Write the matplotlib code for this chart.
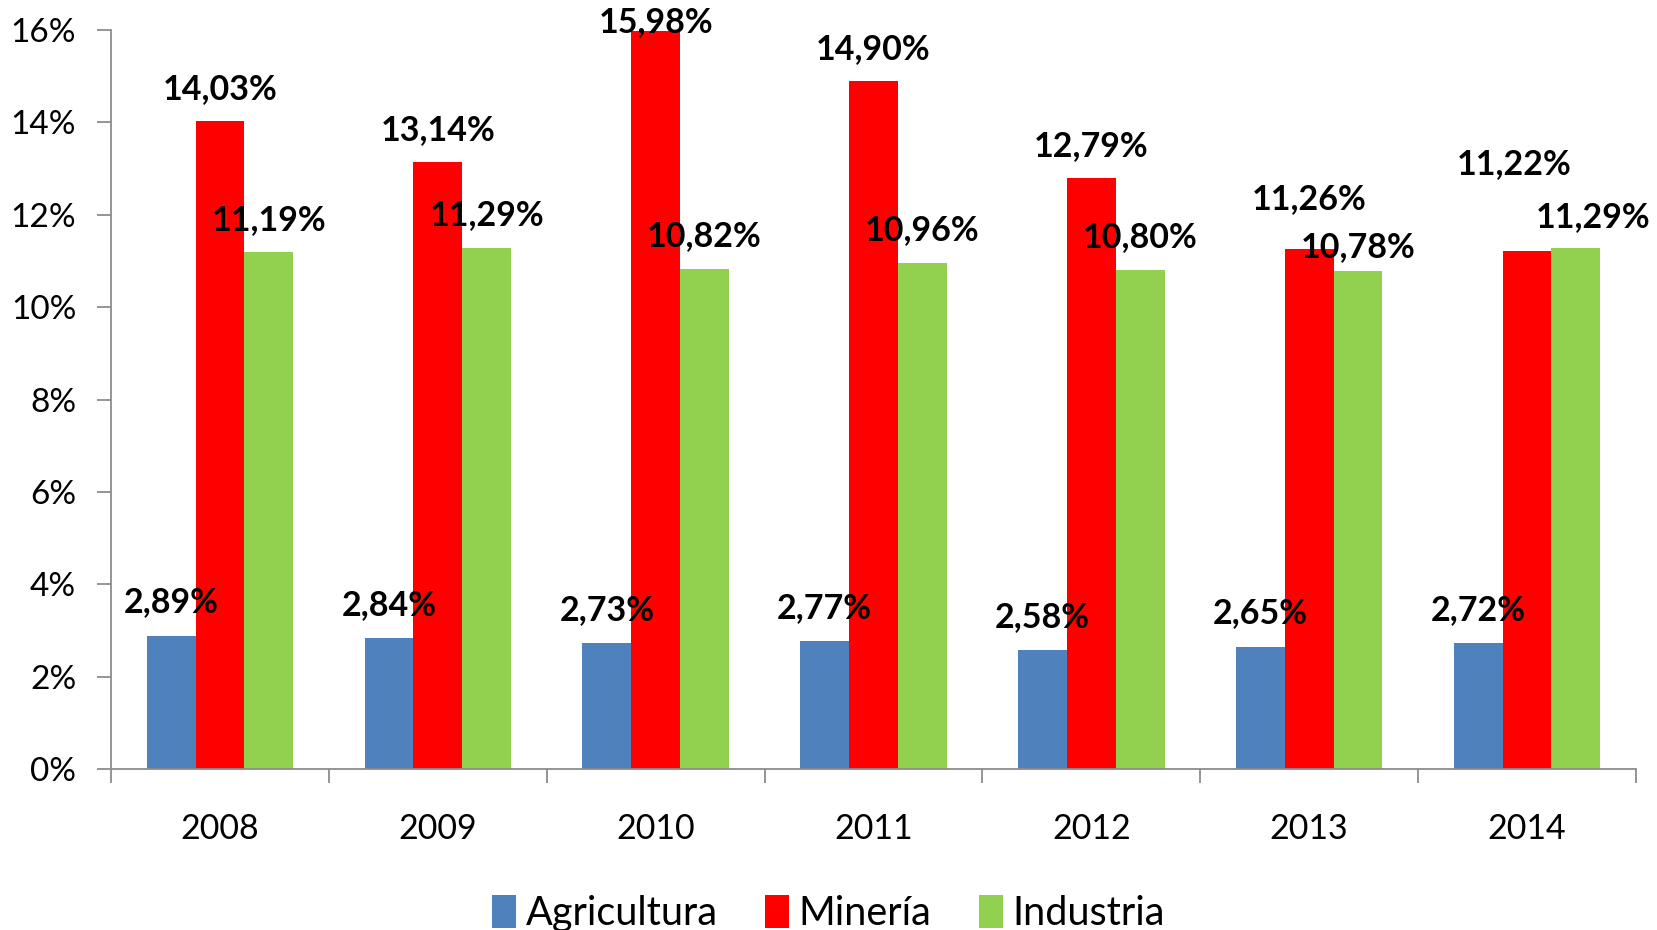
import numpy as np
import matplotlib.pyplot as plt

plt.rcParams['font.family'] = ['Lato', 'DejaVu Sans']

# data
years = ['2008', '2009', '2010', '2011', '2012', '2013', '2014']
agricultura = [2.89, 2.84, 2.73, 2.77, 2.58, 2.65, 2.72]
mineria = [14.03, 13.14, 15.98, 14.90, 12.79, 11.26, 11.22]
industria = [11.19, 11.29, 10.82, 10.96, 10.80, 10.78, 11.29]

series = [('Agricultura', agricultura, '#4F81BD'),
          ('Minería', mineria, '#FF0000'),
          ('Industria', industria, '#92D050')]

# label placement tweaks (offset above bar in %, x shift in group units)
lab_dy = {'Agricultura': [0.72] * 7,
          'Minería': [0.69, 0.70, 0.20, 0.69, 0.70, 1.08, 1.88],
          'Industria': [0.70, 0.71, 0.72, 0.70, 0.72, 0.53, 0.66]}
lab_dx = {'Agricultura': [0] * 7,
          'Minería': [0, 0, 0, 0, 0, 0, -0.06],
          'Industria': [0, 0, 0, 0, 0, 0, 0.08]}

fig = plt.figure(figsize=(16.57, 9.30), dpi=100)
ax = fig.add_axes([0.067, 0.1731, 0.9203, 0.7946])

x = np.arange(len(years))
w = 0.224
for i, (name, vals, col) in enumerate(series):
    pos = x + (i - 1) * w
    ax.bar(pos, vals, width=w, color=col, label=name)
    for j, v in enumerate(vals):
        ax.text(pos[j] + lab_dx[name][j], v + lab_dy[name][j],
                f'{v:.2f}%'.replace('.', ','), ha='center', va='center',
                fontsize=24.5, fontweight='bold')

ax.set_xlim(-0.5, len(years) - 0.5)
ax.set_ylim(0, 16)
ax.set_yticks(range(0, 17, 2))
ax.set_yticklabels([f'{t}%' for t in range(0, 17, 2)], fontsize=24)
ax.set_xticks(np.arange(-0.5, len(years), 1.0))
ax.set_xticklabels([])
ax.set_xticks(x, minor=True)
ax.set_xticklabels(years, minor=True, fontsize=24.5)
ax.tick_params(axis='x', which='minor', length=0, pad=32)
ax.tick_params(axis='y', which='major', pad=15)
ax.tick_params(axis='both', which='major', length=10, width=1.3, color='#8c8c8c')
for s in ['top', 'right']:
    ax.spines[s].set_visible(False)
for s in ['left', 'bottom']:
    ax.spines[s].set_color('#8c8c8c')
    ax.spines[s].set_linewidth(1.3)

fig.legend(loc='center', bbox_to_anchor=(0.5, 0.018), ncol=3, frameon=False,
           fontsize=28.5, handlelength=0.6, handleheight=0.9, handletextpad=0.25,
           columnspacing=1.2)

fig.savefig('out.png', dpi=100)
